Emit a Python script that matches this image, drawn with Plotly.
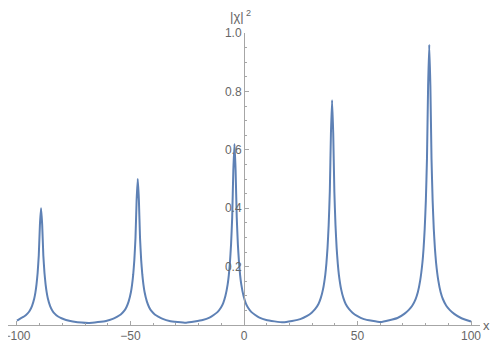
import plotly.graph_objects as go

# |chi|^2, one block per resonance
x_peak1 = [-100, -98.4, -96.9, -95.4, -94.4, -93.4, -92.4, -91.9, -91.4, -90.9, -90.4, -89.9,
           -89.4, -88.9, -88.4, -87.9, -87.4, -86.9, -86.4, -85.4, -84.4, -83.4, -81.9, -80.4,
           -78.4, -75.4, -68.1]
y_peak1 = [0.015, 0.023, 0.029, 0.039, 0.049, 0.065, 0.091, 0.111, 0.139, 0.179, 0.239, 0.343,
           0.400, 0.343, 0.239, 0.179, 0.139, 0.111, 0.091, 0.065, 0.049, 0.039, 0.029, 0.023,
           0.017, 0.012, 0.007]

x_peak2 = [-60.8, -57.8, -55.8, -54.3, -52.8, -51.8, -50.8, -49.8, -49.3, -48.8, -48.3, -47.8,
           -47.3, -46.8, -46.3, -45.8, -45.3, -44.8, -44.3, -43.8, -42.8, -41.8, -40.8, -39.3,
           -37.8, -35.8, -32.8, -25.5]
y_peak2 = [0.014, 0.021, 0.029, 0.036, 0.048, 0.061, 0.081, 0.113, 0.138, 0.173, 0.223, 0.298,
           0.428, 0.500, 0.428, 0.298, 0.223, 0.173, 0.138, 0.113, 0.081, 0.061, 0.048, 0.036,
           0.029, 0.021, 0.014, 0.008]

x_peak3 = [-18.2, -15.2, -13.2, -11.7, -10.2, -9.2, -8.2, -7.2, -6.7, -6.2, -5.7, -5.2,
           -4.7, -4.2, -3.7, -3.2, -2.7, -2.2, -1.7, -1.2, -0.2, 0.8, 1.8, 3.3,
           4.8, 6.8, 9.8, 17.3]
y_peak3 = [0.017, 0.025, 0.035, 0.044, 0.059, 0.074, 0.099, 0.139, 0.170, 0.214, 0.276, 0.369,
           0.530, 0.620, 0.530, 0.369, 0.276, 0.214, 0.170, 0.139, 0.099, 0.074, 0.059, 0.044,
           0.035, 0.025, 0.017, 0.009]

x_peak4 = [24.8, 27.8, 29.8, 31.3, 32.8, 33.8, 34.8, 35.8, 36.3, 36.8, 37.3, 37.8,
           38.3, 38.8, 39.3, 39.8, 40.3, 40.8, 41.3, 41.8, 42.8, 43.8, 44.8, 46.3,
           47.8, 49.8, 52.8, 60.2]
y_peak4 = [0.020, 0.031, 0.042, 0.054, 0.072, 0.092, 0.122, 0.172, 0.211, 0.265, 0.342, 0.457,
           0.657, 0.770, 0.657, 0.457, 0.342, 0.265, 0.211, 0.172, 0.122, 0.092, 0.072, 0.054,
           0.042, 0.031, 0.020, 0.010]

x_peak5 = [67.6, 70.6, 72.6, 74.1, 75.6, 76.6, 77.6, 78.6, 79.1, 79.6, 80.1, 80.6,
           81.1, 81.6, 82.1, 82.6, 83.1, 83.6, 84.1, 84.6, 85.6, 86.6, 87.6, 89.1,
           90.6, 92.6, 95.6, 100]
y_peak5 = [0.024, 0.038, 0.052, 0.066, 0.089, 0.113, 0.152, 0.214, 0.262, 0.329, 0.425, 0.569,
           0.819, 0.960, 0.819, 0.569, 0.425, 0.329, 0.262, 0.214, 0.152, 0.113, 0.089, 0.066,
           0.052, 0.038, 0.024, 0.012]

x_vals = x_peak1 + x_peak2 + x_peak3 + x_peak4 + x_peak5
y_vals = y_peak1 + y_peak2 + y_peak3 + y_peak4 + y_peak5

x_ticks = [-100, -50, 0, 50, 100]
y_ticks = [0.2, 0.4, 0.6, 0.8, 1.0]

AXIS_GREY = "#a6a6a6"
TEXT_GREY = "#666666"

fig = go.Figure(
    go.Scatter(
        x=x_vals,
        y=y_vals,
        mode="lines",
        line=dict(color="#5e81b5", width=2, shape="spline", smoothing=0.4),
        hoverinfo="skip",
    )
)

# the page body sits 8px in from the window corner, margins account for that
fig.update_layout(
    width=500,
    height=349,
    margin=dict(l=0, r=28, t=25, b=32, autoexpand=False),
    paper_bgcolor="white",
    plot_bgcolor="white",
    showlegend=False,
    font=dict(family="Liberation Sans, Arial, sans-serif", size=12, color=TEXT_GREY),
    xaxis=dict(
        range=[-103.96, 103.96],
        automargin=False,
        ticklabeloverflow="allow",
        tickvals=x_ticks,
        ticks="inside",
        ticklen=4,
        tickcolor=AXIS_GREY,
        showline=True,
        linecolor=AXIS_GREY,
        linewidth=1,
        showgrid=False,
        zeroline=False,
        minor=dict(dtick=10, tick0=0, ticks="inside", ticklen=2, tickcolor=AXIS_GREY),
    ),
    yaxis=dict(
        range=[0, 1.0],
        automargin=False,
        anchor="free",
        position=0.5,
        tickvals=y_ticks,
        tickformat=".1f",
        ticks="inside",
        ticklen=4,
        tickcolor=AXIS_GREY,
        showline=True,
        linecolor=AXIS_GREY,
        linewidth=1,
        showgrid=False,
        zeroline=False,
        minor=dict(dtick=0.05, tick0=0, ticks="inside", ticklen=2, tickcolor=AXIS_GREY),
    ),
    annotations=[
        dict(text="|χ|<sup> 2</sup>", xref="paper", yref="paper", x=0.466, y=1.058,
             xanchor="left", yanchor="middle", showarrow=False,
             font=dict(size=13, color=TEXT_GREY)),
        dict(text="x", xref="paper", yref="paper", x=1.013, y=0,
             xanchor="center", yanchor="middle", showarrow=False,
             font=dict(size=13, color=TEXT_GREY)),
    ],
)

fig.write_html("out.html")
